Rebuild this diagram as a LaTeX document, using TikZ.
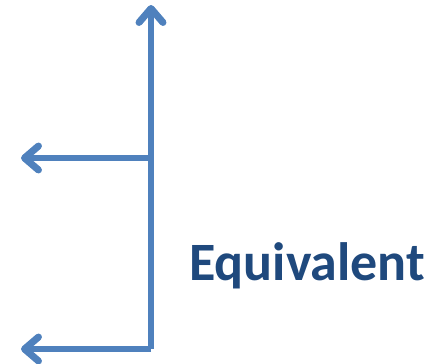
\documentclass[tikz,border=0pt]{standalone}
\usepackage{fontspec}
\setmainfont{Carlito}
\usetikzlibrary{arrows.meta}
\definecolor{lineblue}{HTML}{4F81BD}
\definecolor{textblue}{HTML}{1F497D}
\tikzset{
  conn/.style={draw=lineblue, line width=5.5pt, line join=miter, -{Straight Barb[round,length=14pt,width=24pt,line width=7pt 0]}},
  lbl/.style={text=textblue, font=\bfseries\fontsize{54}{60}\selectfont, inner sep=0pt, anchor=base west}
}
\begin{document}
\begin{tikzpicture}[x=1pt,y=-1pt]
\useasboundingbox (0,0) rectangle (431,364);
\coordinate (top) at (151,5);
\coordinate (mid) at (151,158);
\coordinate (corner) at (151,349);
\coordinate (midend) at (21,158);
\coordinate (botend) at (21,349);
\draw[conn] (corner) -- (top);
\draw[conn] (corner) -- (botend);
\draw[conn] (mid) -- (midend);
\node[lbl] (eq) at (189,280) {Equivalent};
\end{tikzpicture}
\end{document}
